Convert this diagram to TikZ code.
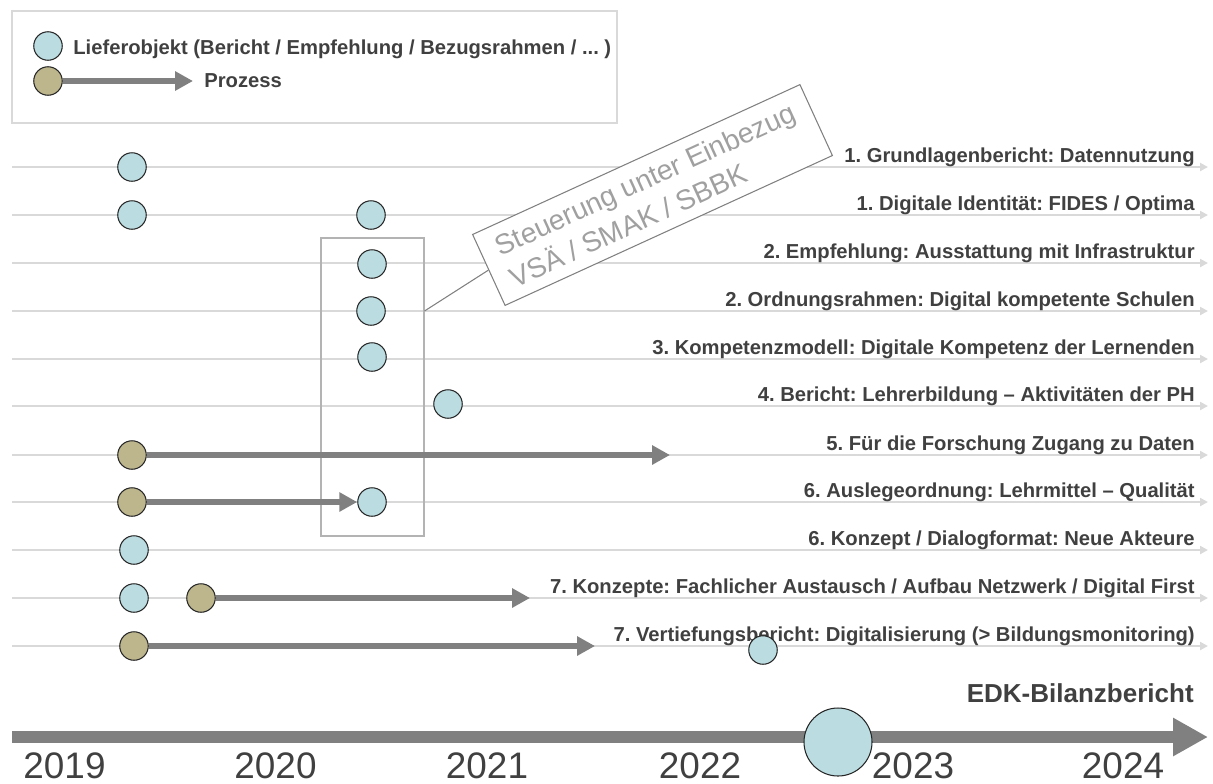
\documentclass[tikz,border=0pt]{standalone}
\usepackage{fontspec}
\setmainfont{Liberation Sans}
\usetikzlibrary{arrows.meta}
\definecolor{lieferblau}{RGB}{187,221,225}
\definecolor{prozessoliv}{RGB}{189,182,140}
\definecolor{pfeilgrau}{RGB}{128,128,128}
\definecolor{liniengrau}{RGB}{217,217,217}
\definecolor{textgrau}{RGB}{64,64,64}
\definecolor{steuergrau}{RGB}{160,160,160}
\frenchspacing
\begin{document}
\begin{tikzpicture}[x=0.2mm,y=-0.2mm,
  lief/.style={circle,draw=black!85,line width=0.6pt,fill=lieferblau,minimum size=5.7mm,inner sep=0pt},
  proz/.style={lief,fill=prozessoliv},
  prozpfeil/.style={draw=pfeilgrau,line width=3.6pt,-{Triangle[length=10.2pt,width=10.5pt]}},
  zeile/.style={draw=liniengrau,line width=1.1pt,-{Triangle[length=4.5pt,width=4.5pt]}},
  zeiltext/.style={anchor=base east,inner sep=0pt,text=textgrau,font=\bfseries\fontsize{11.5}{13}\selectfont},
  jahr/.style={anchor=base,inner sep=0pt,text=textgrau,font=\fontsize{21}{24}\selectfont}]
  \useasboundingbox (0,0) rectangle (1213,783);
  % legende
  \node[draw=liniengrau,line width=0.8pt,minimum width=121mm,minimum height=22.4mm,inner sep=0pt] (leg) at (314.5,67) {};
  \node[lief] (legd) at (48,46) {};
  \node[proz] (legp) at (48,81) {};
  \coordinate (legpe) at (193,81);
  \draw[prozpfeil] (legp.east) -- (legpe);
  \node[zeiltext,anchor=base west] (legdt) at (73,54) {Lieferobjekt (Bericht / Empfehlung / Bezugsrahmen / ... )};
  \node[zeiltext,anchor=base west] (legpt) at (204,87) {Prozess};
  % zeilen
  \foreach \y/\t [count=\i] in {167/{1. Grundlagenbericht: Datennutzung},
      215/{1. Digitale Identität: FIDES / Optima},
      263/{2. Empfehlung: Ausstattung mit Infrastruktur},
      311/{2. Ordnungsrahmen: Digital kompetente Schulen},
      359/{3. Kompetenzmodell: Digitale Kompetenz der Lernenden},
      406/{4. Bericht: Lehrerbildung – Aktivitäten der PH},
      455/{5. Für die Forschung Zugang zu Daten},
      502/{6. Auslegeordnung: Lehrmittel – Qualität},
      550/{6. Konzept / Dialogformat: Neue Akteure},
      598/{7. Konzepte: Fachlicher Austausch / Aufbau Netzwerk / Digital First},
      646/{7. Vertiefungsbericht: Digitalisierung (> Bildungsmonitoring)}} {
    \coordinate (z\i) at (12,\y);
    \coordinate (ze\i) at (1208,\y);
    \draw[zeile] (z\i) -- (ze\i);
    \node[zeiltext] (t\i) at (1195,\y-5) {\t};
  }
  % steuerung
  \node[draw=steuergrau!80,line width=0.6pt,minimum width=20.6mm,minimum height=59.6mm,inner sep=0pt] (grp) at (372.5,387) {};
  \node[draw=pfeilgrau,line width=0.6pt,fill=white,rotate=24.6,minimum width=72mm,minimum height=15.6mm,inner sep=0pt,
    align=left,text=steuergrau,font=\fontsize{16}{20}\selectfont] (ctrl) at (652.5,195) {Steuerung unter Einbezug\\VSÄ / SMAK / SBBK};
  % lieferobjekte
  \node[lief] (d1) at (132,167) {};
  \node[lief] (d2a) at (132,215) {};
  \node[lief] (d2b) at (371,215) {};
  \node[lief] (d3) at (372,264) {};
  \node[lief] (d4) at (371,311) {};
  \node[lief] (d5) at (372,357) {};
  \node[lief] (d6) at (448,404) {};
  \node[lief] (d8) at (372,502) {};
  \node[lief] (d9) at (134,550) {};
  \node[lief] (d10) at (134,598) {};
  \node[lief] (d11) at (763,650) {};
  \draw[draw=pfeilgrau,line width=0.6pt] (grp.east |- d4) -- (ctrl.west);
  % prozesse
  \node[proz] (p7) at (132,455) {};
  \node[proz] (p8) at (132,502) {};
  \node[proz] (p10) at (201,598) {};
  \node[proz] (p11) at (134,646) {};
  \coordinate (a7) at (670,455);
  \coordinate (a10) at (530,598);
  \coordinate (a11) at (595,646);
  \draw[prozpfeil] (p7.east) -- (a7);
  \draw[prozpfeil] (p8.east) -- (d8.west);
  \draw[prozpfeil] (p10.east) -- (a10);
  \draw[prozpfeil] (p11.east) -- (a11);
  % zeitachse
  \coordinate (ax0) at (12,737);
  \coordinate (ax1) at (1208,737);
  \draw[draw=pfeilgrau,line width=6.8pt,-{Triangle[length=19.8pt,width=20.4pt]}] (ax0) -- (ax1);
  \node[lief,minimum size=13.6mm] (edk) at (838,742) {};
  \node[zeiltext,font=\bfseries\fontsize{14.8}{16}\selectfont] (edkt) at (1194,702) {EDK-Bilanzbericht};
  \foreach \jr/\x in {2019/64.5,2020/275.5,2021/487,2022/700,2023/913,2024/1123}
    \node[jahr] (j\jr) at (\x,778) {\jr};
\end{tikzpicture}
\end{document}
